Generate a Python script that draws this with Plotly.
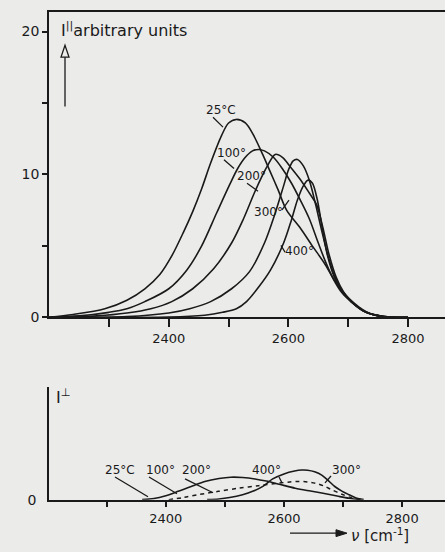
import plotly.graph_objects as go

# ---------------- data ----------------
# upper panel: I-parallel, arbitrary units vs wavenumber (cm-1)
x25 = [2200, 2240, 2293, 2330, 2360, 2385, 2405, 2425, 2440, 2455, 2470, 2488, 2500, 2513, 2528, 2541, 2557, 2569, 2583, 2597, 2619, 2640, 2660, 2680, 2702, 2730, 2753, 2800]
y25 = [0, 0.2, 0.6, 1.2, 2.0, 3.0, 4.3, 6.0, 7.4, 9.0, 10.8, 12.7, 13.6, 13.85, 13.6, 12.8, 11.4, 10.25, 8.9, 7.5, 6.3, 5.0, 3.8, 2.4, 1.3, 0.4, 0.05, 0]

x100 = [2200, 2250, 2300, 2330, 2360, 2400, 2430, 2455, 2480, 2502, 2515, 2528, 2540, 2550, 2560, 2575, 2590, 2605, 2620, 2635, 2650, 2662, 2675, 2690, 2705, 2730, 2760, 2800]
y100 = [0, 0.1, 0.35, 0.6, 1.1, 2.0, 3.3, 5.0, 7.3, 9.3, 10.4, 11.2, 11.65, 11.75, 11.65, 11.2, 10.4, 9.4, 8.2, 6.9, 5.2, 3.9, 2.7, 1.7, 1.1, 0.35, 0.05, 0]

x200 = [2200, 2280, 2330, 2370, 2405, 2440, 2475, 2505, 2525, 2543, 2555, 2565, 2578, 2590, 2602, 2619, 2635, 2647, 2657, 2668, 2680, 2692, 2705, 2730, 2760, 2800]
y200 = [0, 0.1, 0.3, 0.6, 1.1, 2.0, 3.4, 5.2, 6.9, 8.7, 9.8, 10.6, 11.4, 11.2, 10.6, 9.7, 8.7, 7.9, 6.4, 4.4, 2.8, 1.8, 1.1, 0.35, 0.05, 0]

x300 = [2200, 2330, 2400, 2435, 2470, 2505, 2535, 2560, 2578, 2592, 2600, 2608, 2615, 2625, 2635, 2645, 2655, 2665, 2677, 2690, 2705, 2730, 2760, 2800]
y300 = [0, 0.05, 0.3, 0.6, 1.1, 2.0, 3.2, 5.2, 7.3, 9.2, 10.3, 10.95, 11.05, 10.6, 9.6, 8.0, 6.2, 4.5, 2.9, 1.8, 1.1, 0.35, 0.05, 0]

x400 = [2200, 2400, 2460, 2490, 2513, 2530, 2550, 2570, 2592, 2605, 2615, 2625, 2633, 2640, 2648, 2656, 2665, 2677, 2690, 2705, 2730, 2760, 2800]
y400 = [0, 0.02, 0.15, 0.35, 0.6, 1.1, 2.1, 3.3, 5.2, 6.8, 8.2, 9.2, 9.6, 9.4, 8.3, 6.4, 4.4, 2.8, 1.8, 1.1, 0.35, 0.05, 0]

# lower panel: I-perpendicular
xb_broad = [2360, 2380, 2400, 2421, 2445, 2466, 2490, 2510, 2530, 2551, 2570, 2590, 2619, 2645, 2664, 2690, 2710, 2730]
yb_broad = [0, 0.08, 0.28, 0.58, 0.95, 1.27, 1.48, 1.57, 1.55, 1.45, 1.3, 1.1, 0.8, 0.6, 0.46, 0.25, 0.1, 0]

xb_dash = [2405, 2430, 2455, 2489, 2523, 2557, 2591, 2610, 2625, 2640, 2653, 2668, 2681, 2698, 2715, 2730]
yb_dash = [0, 0.15, 0.35, 0.58, 0.8, 0.98, 1.15, 1.24, 1.27, 1.24, 1.15, 0.95, 0.69, 0.38, 0.12, 0]

xb_sharp = [2470, 2490, 2508, 2530, 2547, 2565, 2581, 2600, 2618, 2630, 2640, 2652, 2664, 2676, 2686, 2698, 2710, 2722, 2735]
yb_sharp = [0, 0.05, 0.15, 0.35, 0.58, 0.95, 1.45, 1.8, 2.0, 2.07, 2.06, 1.95, 1.72, 1.3, 0.92, 0.6, 0.35, 0.12, 0]

x_major = [2400, 2600, 2800]
x_labels = ["2400", "2600", "2800"]
x_minor = [2300, 2500, 2700]
y_major = [0, 10, 20]
y_labels = ["0", "10", "20"]
y_minor = [5, 15]

# ---------------- figure ----------------
W, H = 445, 552
INK = "#1a1a1a"
BG = "#ebebea"
FONT = "DejaVu Sans"

fig = go.Figure()
line = dict(color=INK, width=1.6, shape="spline", smoothing=0.9)
for xs, ys, nm in [(x25, y25, "25°C"), (x100, y100, "100°"), (x200, y200, "200°"),
                   (x300, y300, "300°"), (x400, y400, "400°")]:
    fig.add_trace(go.Scatter(x=xs, y=ys, mode="lines", name=nm, line=line,
                             xaxis="x", yaxis="y", showlegend=False))

fig.add_trace(go.Scatter(x=xb_broad, y=yb_broad, mode="lines", line=line,
                         xaxis="x2", yaxis="y2", showlegend=False))
fig.add_trace(go.Scatter(x=xb_dash, y=yb_dash, mode="lines",
                         line=dict(color=INK, width=1.5, dash="4px,4px", shape="spline", smoothing=0.9),
                         xaxis="x2", yaxis="y2", showlegend=False))
fig.add_trace(go.Scatter(x=xb_sharp, y=yb_sharp, mode="lines", line=line,
                         xaxis="x2", yaxis="y2", showlegend=False))

def px(x):
    return x / W

def py(y):
    return 1 - y / H

axis_common = dict(showgrid=False, zeroline=False, showline=True, linecolor=INK, linewidth=1.6,
                   tickcolor=INK, tickwidth=1.5, tickfont=dict(family=FONT, size=13, color=INK))

fig.update_layout(
    width=W, height=H, margin=dict(l=0, r=0, t=0, b=0),
    paper_bgcolor=BG, plot_bgcolor=BG,
    xaxis=dict(axis_common, domain=[49 / W, 1], range=[2199.7, 2861.9], anchor="y",
               tickvals=x_major, ticktext=x_labels, ticks="outside", ticklen=8, mirror=True,
               minor=dict(tickvals=x_minor, ticks="outside", ticklen=8, tickwidth=1.5, tickcolor=INK)),
    yaxis=dict(axis_common, domain=[py(322), py(12)], range=[0, 21.38], anchor="x",
               tickvals=y_major, ticktext=y_labels, ticks="outside", ticklen=5,
               tickfont=dict(family=FONT, size=14, color=INK),
               minor=dict(tickvals=y_minor, ticks="outside", ticklen=5, tickwidth=1.5, tickcolor=INK)),
    xaxis2=dict(axis_common, domain=[49 / W, 1], range=[2202.3, 2872.6], anchor="y2",
                tickvals=x_major, ticktext=x_labels, ticks="outside", ticklen=6,
                minor=dict(tickvals=x_minor, ticks="outside", ticklen=6, tickwidth=1.5, tickcolor=INK)),
    yaxis2=dict(axis_common, domain=[py(507), py(393)], range=[0, 7.86], anchor="x2",
                tickvals=[0], ticktext=["0"], ticks="", ticklabelstandoff=8,
                tickfont=dict(family=FONT, size=14, color=INK)),
)

ann = []
def txt(x, y, s, size=12):
    ann.append(dict(x=px(x), y=py(y), xref="paper", yref="paper", text=s, showarrow=False,
                    font=dict(family=FONT, size=size, color=INK), xanchor="center", yanchor="middle"))

# axis titles
ann.append(dict(x=px(59), y=py(30), xref="paper", yref="paper", xanchor="left", yanchor="middle",
                text="I<sup>||</sup>arbitrary units", showarrow=False,
                font=dict(family=FONT, size=16, color=INK)))
ann.append(dict(x=px(54), y=py(402), xref="paper", yref="paper", xanchor="left", yanchor="middle",
                text="I<sup>⊥</sup>", showarrow=False, font=dict(family=FONT, size=16, color=INK)))
ann.append(dict(x=px(349), y=py(543), xref="paper", yref="paper", xanchor="left", yanchor="middle",
                text="<i>ν</i> [cm<sup>-1</sup>]", showarrow=False, font=dict(family=FONT, size=15, color=INK)))

# curve labels, upper panel
txt(221, 112, "25°C")
txt(231, 155, "100°")
txt(251, 179, "200°")
txt(268, 215, "300°")
txt(299, 255, "400°")
# curve labels, lower panel
txt(120, 477, "25°C")
txt(160, 477, "100°")
txt(196, 477, "200°")
txt(266, 477, "400°")
txt(346, 477, "300°")

shapes = []
def seg(x0, y0, x1, y1, w=1.3):
    shapes.append(dict(type="line", xref="paper", yref="paper", x0=px(x0), y0=py(y0), x1=px(x1), y1=py(y1),
                       line=dict(color=INK, width=w)))

# leaders upper
seg(213, 119, 223, 129)
seg(224, 162, 234, 171)
seg(247, 186, 258, 194)
seg(282, 213, 289, 203)
seg(281, 249, 285, 256)
# leaders lower
seg(115, 484, 148, 504)
seg(149, 484, 177, 501)
seg(185, 486, 213, 500)
seg(279, 484, 282, 490)
seg(331, 483, 325, 490)

# vertical arrow for I-parallel
seg(65, 108, 65, 57)
shapes.append(dict(type="path", xref="paper", yref="paper",
                   path=f"M {px(61)},{py(58)} L {px(65)},{py(46)} L {px(69)},{py(58)} Z",
                   line=dict(color=INK, width=1.3), fillcolor=BG))
# horizontal arrow for nu
seg(290, 541, 340, 541)
shapes.append(dict(type="path", xref="paper", yref="paper",
                   path=f"M {px(336)},{py(537.5)} L {px(347)},{py(541)} L {px(336)},{py(544.5)} Z",
                   line=dict(color=INK, width=1), fillcolor=INK))

fig.update_layout(annotations=ann, shapes=shapes)
fig.write_html("out.html")
